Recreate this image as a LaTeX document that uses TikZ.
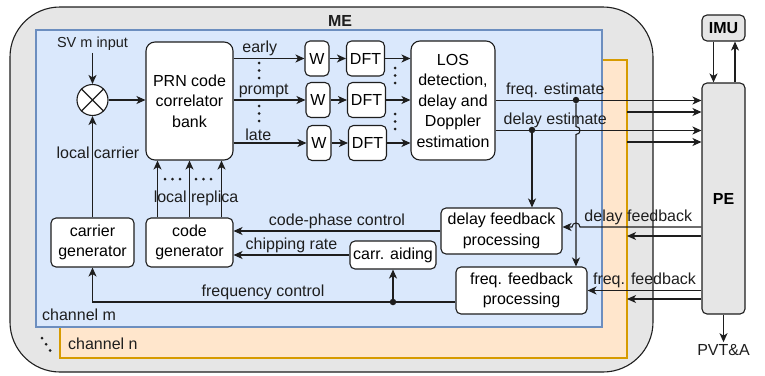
\documentclass[tikz,border=0pt]{standalone}
\usepackage{fontspec}
\setmainfont{Liberation Sans}
\usetikzlibrary{arrows.meta,calc}
\definecolor{megrey}{HTML}{E6E6E6}
\definecolor{chmfill}{HTML}{DAE8FC}
\definecolor{chmline}{HTML}{6C8EBF}
\definecolor{chnfill}{HTML}{FFE6CC}
\definecolor{chnline}{HTML}{D79B00}
\definecolor{wirecol}{HTML}{1E1E1E}
\tikzset{
  >={Stealth[length=9pt,width=8pt,inset=2.5pt]},
  font=\fontsize{16}{20.5}\selectfont,
  box/.style={draw=wirecol,line width=1.1pt,rounded corners=5pt,fill=white,
              inner sep=2pt,align=center},
  bigbox/.style={box,rounded corners=9pt},
  greybox/.style={box,fill=megrey,font=\fontsize{16}{20.5}\selectfont\bfseries},
  mebox/.style={draw=wirecol,line width=1.1pt,fill=megrey,rounded corners=50pt},
  chanm/.style={draw=chmline,line width=1.1pt,fill=chmfill},
  chann/.style={draw=chnline,line width=1.1pt,fill=chnfill},
  flow/.style={->,line width=1.1pt,draw=wirecol},
  wire/.style={line width=1.1pt,draw=wirecol},
  flowlbl/.style={inner sep=2pt,text=wirecol},
  jdot/.style={circle,fill=wirecol,inner sep=0pt,minimum size=6.5pt},
  dotrow/.style={line width=3pt,line cap=round,dash pattern=on 0pt off 7.5pt,draw=wirecol},
}

\begin{document}
\begin{tikzpicture}[x=1pt,y=-1pt]
  \useasboundingbox (0,0) rectangle (765,375);

  % ---- containers: ME, channel n, channel m ----
  \node[mebox,minimum width=643pt,minimum height=365pt] (me) at (331.5,189.5) {};
  \node[flowlbl,font=\fontsize{16}{20.5}\selectfont\bfseries] (metitle) at (340,20.5) {ME};
  \node[chann,minimum width=567pt,minimum height=298pt] (chn) at (343.5,209) {};
  \node[chanm,minimum width=566pt,minimum height=297pt] (chm) at (319,178.5) {};
  \node[flowlbl,anchor=west] (chmlbl) at (40,315) {channel m};
  \node[flowlbl,anchor=west] (chnlbl) at (66,344) {channel n};
  \draw[dotrow] (42,338) -- (50.2,350.7);

  % ---- front end: mixer and correlators ----
  \node[flowlbl,font=\fontsize{14.5}{17}\selectfont] (sv) at (92.5,44) {SV m input};
  \node[draw=wirecol,line width=1.1pt,circle,fill=white,minimum size=31pt,
        inner sep=0pt] (mix) at (92.5,100) {};
  \draw[wire] (mix.north west) -- (mix.south east) (mix.north east) -- (mix.south west);
  \node[bigbox,minimum width=87pt,minimum height=118pt] (prn) at (189.5,101)
    {PRN code\\correlator\\bank};

  \node[box,minimum width=24pt,minimum height=35pt] (w1) at (317,58.5) {W};
  \node[box,minimum width=24pt,minimum height=35pt] (w2) at (318,100) {W};
  \node[box,minimum width=24pt,minimum height=35pt] (w3) at (319,143) {W};
  \node[box,minimum width=38pt,minimum height=35pt] (dft1) at (365.5,58.5) {DFT};
  \node[box,minimum width=38pt,minimum height=35pt] (dft2) at (366.5,100) {DFT};
  \node[box,minimum width=38pt,minimum height=35pt] (dft3) at (367.5,143) {DFT};
  \node[bigbox,minimum width=84pt,minimum height=119pt] (los) at (453,100.5)
    {LOS\\detection,\\delay and\\Doppler\\estimation};

  \draw[flow] (sv) -- (mix);
  \draw[flow] (mix.east) -- (mix.east -| prn.west);
  \draw[flow] (prn.east |- w1) -- node[flowlbl,above,pos=0.37]{early} (w1.west);
  \draw[flow] (prn.east |- w2) -- node[flowlbl,above,pos=0.42]{prompt} (w2.west);
  \draw[flow] (prn.east |- w3) -- node[flowlbl,above,pos=0.34]{late} (w3.west);
  \draw[dotrow] (259,63) -- (259,78.1);
  \draw[dotrow] (259,106) -- (259,121.1);
  \draw[flow] (w1) -- (dft1);
  \draw[flow] (w2) -- (dft2);
  \draw[flow] (w3) -- (dft3);
  \draw[flow] (dft1.east) -- (dft1.east -| los.west);
  \draw[flow] (dft2.east) -- (dft2.east -| los.west);
  \draw[flow] (dft3.east) -- (dft3.east -| los.west);
  \draw[dotrow] (395,68) -- (395,83.1);
  \draw[dotrow] (395,114) -- (395,129.1);

  % ---- loop blocks ----
  \node[box,minimum width=83pt,minimum height=49pt] (carg) at (92.5,242.5)
    {carrier\\generator};
  \node[box,minimum width=87pt,minimum height=49pt] (cgen) at (189.5,242.5)
    {code\\generator};
  \node[box,minimum width=86pt,minimum height=28pt] (aid) at (393,255) {carr. aiding};
  \node[box,minimum width=121pt,minimum height=46pt] (dfb) at (501.5,231)
    {delay feedback\\processing};
  \node[box,minimum width=131pt,minimum height=47pt] (ffb) at (521.5,290.5)
    {freq. feedback\\processing};

  % ---- PE and IMU ----
  \node[greybox,minimum width=43pt,minimum height=231pt] (pe) at (723.5,198.5) {PE};
  \node[greybox,minimum width=43pt,minimum height=26pt] (imu) at (723.5,28) {IMU};
  \node[flowlbl] (pvt) at (723.5,350) {PVT\&A};
  \draw[flow] ([xshift=-10pt]imu.south) -- ([xshift=-10pt]pe.north);
  \draw[flow] ([xshift=11.5pt]pe.north) -- ([xshift=11.5pt]imu.south);
  \draw[flow] (pe) -- (pvt);

  % ---- estimates to PE ----
  \coordinate (dest) at ($(los.east)+(0,30)$);
  \coordinate (nfe) at (627,112);
  \coordinate (nde) at (627,142);
  \draw[flow] (los.east) -- node[flowlbl,above,pos=0.29]{freq. estimate} (pe.west |- los.east);
  \draw[flow] (dest) -- node[flowlbl,above,pos=0.29]{delay estimate} (pe.west |- dest);
  \draw[flow] (nfe) -- (pe.west |- nfe);
  \draw[flow] (nde) -- (pe.west |- nde);
  \node[jdot] (fdot) at (576,100) {};
  \node[jdot] (ddot) at (532,130) {};
  \draw[flow] (ddot) -- (ddot |- dfb.north);
  \draw[flow] (fdot) -- ($(fdot |- dest)+(0,-4)$)
    .. controls ($(fdot |- dest)+(5.3,-4)$) and ($(fdot |- dest)+(5.3,4)$) ..
    ($(fdot |- dest)+(0,4)$) -- (fdot |- ffb.north);

  % ---- feedback from PE ----
  \coordinate (dfin) at ($(dfb.east)+(0,-4)$);
  \coordinate (dfn) at (627,236);
  \coordinate (ffn) at (627,299);
  \draw[flow] (pe.west |- dfin) -- node[flowlbl,above,pos=0.52]{delay feedback}
    ($(fdot |- dfin)+(4,0)$)
    .. controls ($(fdot |- dfin)+(4,-5.3)$) and ($(fdot |- dfin)+(-4,-5.3)$) ..
    ($(fdot |- dfin)+(-4,0)$) -- (dfin);
  \draw[flow] (pe.west |- dfn) -- (dfn);
  \draw[flow] (pe.west |- ffb.east) -- node[flowlbl,above]{freq. feedback} (ffb.east);
  \draw[flow] (pe.west |- ffn) -- (ffn);

  % ---- controls back to the generators ----
  \coordinate (fc) at ($(ffb.west)+(0,11.5)$);
  \draw[flow] (dfb.west) -- node[flowlbl,above]{code-phase control} (dfb.west -| cgen.east);
  \draw[flow] (aid.west) -- node[flowlbl,above]{chipping rate} (aid.west -| cgen.east);
  \draw[flow] (fc) -- node[flowlbl,above,pos=0.53]{frequency control} (carg |- fc) -- (carg.south);
  \node[jdot] (adot) at (aid |- fc) {};
  \draw[flow] (adot) -- (aid);

  % ---- local carrier and replica ----
  \node[flowlbl] (lcar) at (98,153) {local carrier};
  \node[flowlbl] (lrep) at (196,198) {local replica};
  \draw[flow] (carg) -- (mix);
  \draw[flow] ([xshift=-32pt]cgen.north) -- ([xshift=-32pt]prn.south);
  \draw[flow] (cgen) -- (prn);
  \draw[flow] ([xshift=32pt]cgen.north) -- ([xshift=32pt]prn.south);
  \draw[dotrow] (165,179) -- (180.1,179);
  \draw[dotrow] (196,179) -- (211.1,179);
\end{tikzpicture}
\end{document}
